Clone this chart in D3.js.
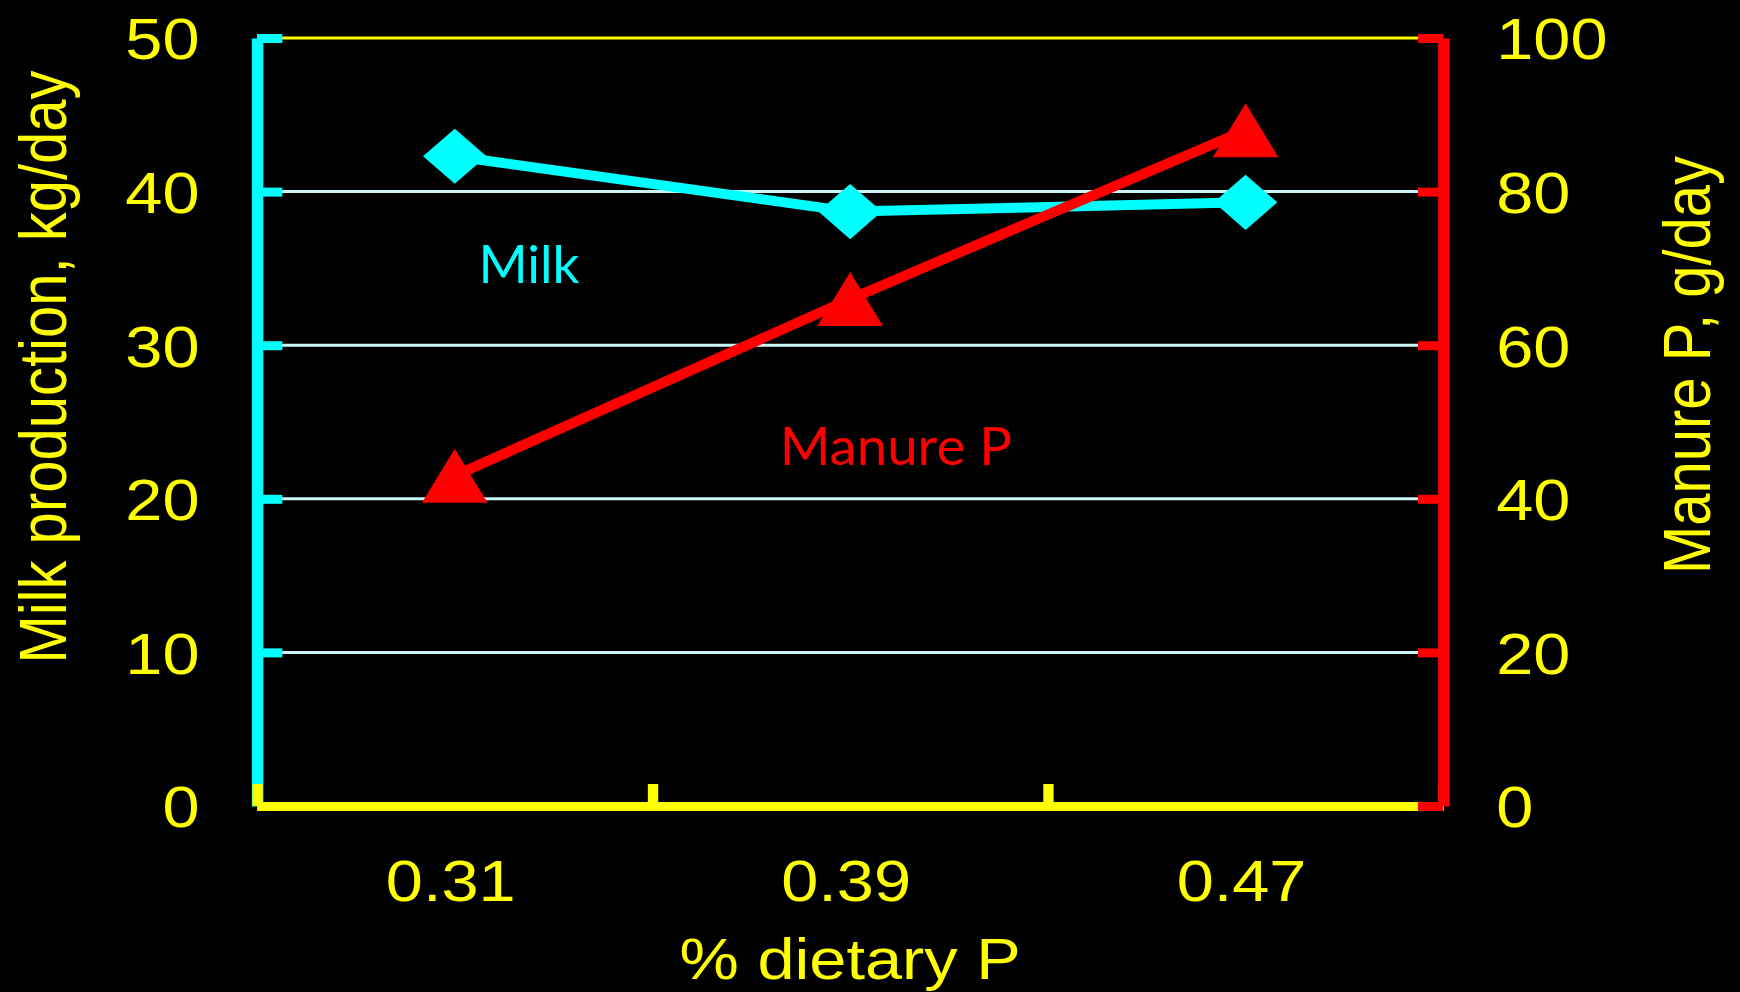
<!DOCTYPE html>
<html>
<head>
<meta charset="utf-8">
<script src="https://cdn.jsdelivr.net/npm/d3@7"></script>
<style>
  html, body { margin: 0; padding: 0; background: #000; }
  svg { display: block; }
  .tick text { font-family: "Liberation Sans", Arial, sans-serif; font-size: 58px; fill: #ffff00; }
  .title { font-family: "Liberation Sans", Arial, sans-serif; font-size: 58px; fill: #ffff00; }
  .note { font-family: Lato, "Open Sans", sans-serif; font-size: 53px; }
</style>
</head>
<body>
<div id="chart"></div>
<script>
const categories = ['0.31', '0.39', '0.47']
const milk = [42.3, 38.7, 39.3]
const manureP = [43, 66, 88]
const leftTicks = [0, 10, 20, 30, 40, 50]
const rightTicks = [0, 20, 40, 60, 80, 100]

// the slide is stretched sideways, so draw in a narrower box and let it stretch
const outW = 1740, outH = 992
const stretch = 1.15
const W = outW / stretch, H = outH

const margin = {top: 38, right: 258, bottom: 186, left: 223.5}
const plotL = margin.left, plotR = W - margin.right
const plotT = margin.top, plotB = H - margin.bottom

let svg = d3.select('#chart').append('svg')
  .attr('width', outW)
  .attr('height', outH)
  .attr('viewBox', `0 0 ${W} ${H}`)
  .attr('preserveAspectRatio', 'none')

svg.append('rect').attr('width', W).attr('height', H).attr('fill', '#000')

let x = d3.scaleBand().domain(categories).range([plotL, plotR])
let xEdges = d3.scaleLinear().domain([0, categories.length]).range([plotL, plotR])
let yL = d3.scaleLinear().domain([0, 50]).range([plotB, plotT])
let yR = d3.scaleLinear().domain([0, 100]).range([plotB, plotT])

// gridlines
svg.append('g')
  .selectAll('line')
  .data(leftTicks.filter(d => d > 0))
  .enter()
  .append('line')
  .attr('x1', plotL).attr('x2', plotR)
  .attr('y1', d => yL(d)).attr('y2', d => yL(d))
  .attr('stroke', d => d === 50 ? '#ffff00' : '#c8f6f6')
  .attr('stroke-width', 3)

// left axis (cyan)
let gL = svg.append('g')
  .attr('transform', `translate(${plotL},0)`)
  .call(d3.axisLeft(yL).tickValues(leftTicks).tickSizeInner(-22).tickSizeOuter(0).tickPadding(50))
gL.select('.domain').attr('stroke', '#00ffff').attr('stroke-width', 10)
gL.selectAll('.tick line').attr('stroke', '#00ffff').attr('stroke-width', 9)
gL.selectAll('.tick text').attr('dy', '0.36em')

// x axis (yellow): edge ticks, then labels
let gX = svg.append('g')
  .attr('transform', `translate(0,${plotB})`)
  .call(d3.axisBottom(xEdges).tickValues(d3.range(categories.length + 1)).tickSizeInner(-22).tickSizeOuter(0).tickFormat(''))
gX.select('.domain').attr('stroke', '#ffff00').attr('stroke-width', 9)
gX.selectAll('.tick line').attr('stroke', '#ffff00').attr('stroke-width', 9)

let gXl = svg.append('g')
  .attr('transform', `translate(0,${plotB})`)
  .call(d3.axisBottom(x).tickSize(0).tickPadding(54))
gXl.select('.domain').remove()
gXl.selectAll('.tick text').attr('dx', -3.5)

// right axis (red)
let gR = svg.append('g')
  .attr('transform', `translate(${plotR},0)`)
  .call(d3.axisRight(yR).tickValues(rightTicks).tickSizeInner(-22).tickSizeOuter(0).tickPadding(46))
gR.select('.domain').attr('stroke', '#ff0000').attr('stroke-width', 10)
gR.selectAll('.tick line').attr('stroke', '#ff0000').attr('stroke-width', 9)
gR.selectAll('.tick text').attr('dy', '0.36em')

// axis titles
svg.append('text')
  .attr('class', 'title')
  .attr('text-anchor', 'middle')
  .attr('transform', `translate(57,367) rotate(-90)`)
  .text('Milk production, kg/day')

svg.append('text')
  .attr('class', 'title')
  .attr('text-anchor', 'middle')
  .attr('transform', `translate(1487,365) rotate(-90)`)
  .text('Manure P, g/day')

svg.append('text')
  .attr('class', 'title')
  .attr('text-anchor', 'middle')
  .attr('x', (plotL + plotR) / 2)
  .attr('y', 979)
  .text('% dietary P')

// series
const cx = (d, i) => x(categories[i]) + x.bandwidth() / 2

let milkLine = d3.line().x(cx).y(d => yL(d))
svg.append('path')
  .datum(milk)
  .attr('d', milkLine)
  .attr('fill', 'none')
  .attr('stroke', '#00ffff')
  .attr('stroke-width', 10)

svg.append('g')
  .selectAll('path')
  .data(milk)
  .enter()
  .append('path')
  .attr('d', d3.symbol(d3.symbolSquare, 39 * 39))
  .attr('transform', (d, i) => `translate(${cx(d, i)},${yL(d)}) rotate(45)`)
  .attr('fill', '#00ffff')

// triangle centred on its bounding box, like the spreadsheet marker
const boxTriangle = {
  draw(ctx, size) {
    const w = 57, h = 54
    ctx.moveTo(0, -h / 2)
    ctx.lineTo(w / 2, h / 2)
    ctx.lineTo(-w / 2, h / 2)
    ctx.closePath()
  }
}

let manureLine = d3.line().x(cx).y(d => yR(d))
svg.append('path')
  .datum(manureP)
  .attr('d', manureLine)
  .attr('fill', 'none')
  .attr('stroke', '#ff0000')
  .attr('stroke-width', 10)

svg.append('g')
  .selectAll('path')
  .data(manureP)
  .enter()
  .append('path')
  .attr('d', d3.symbol(boxTriangle, 1))
  .attr('transform', (d, i) => `translate(${cx(d, i)},${yR(d)})`)
  .attr('fill', '#ff0000')

// labels on the plot
svg.append('text')
  .attr('class', 'note')
  .attr('x', 416)
  .attr('y', 283)
  .attr('fill', '#00ffff')
  .attr('textLength', 88)
  .attr('lengthAdjust', 'spacingAndGlyphs')
  .text('Milk')

svg.append('text')
  .attr('class', 'note')
  .attr('x', 678)
  .attr('y', 465)
  .attr('fill', '#ff0000')
  .attr('textLength', 202)
  .attr('lengthAdjust', 'spacingAndGlyphs')
  .text('Manure P')
</script>
</body>
</html>
